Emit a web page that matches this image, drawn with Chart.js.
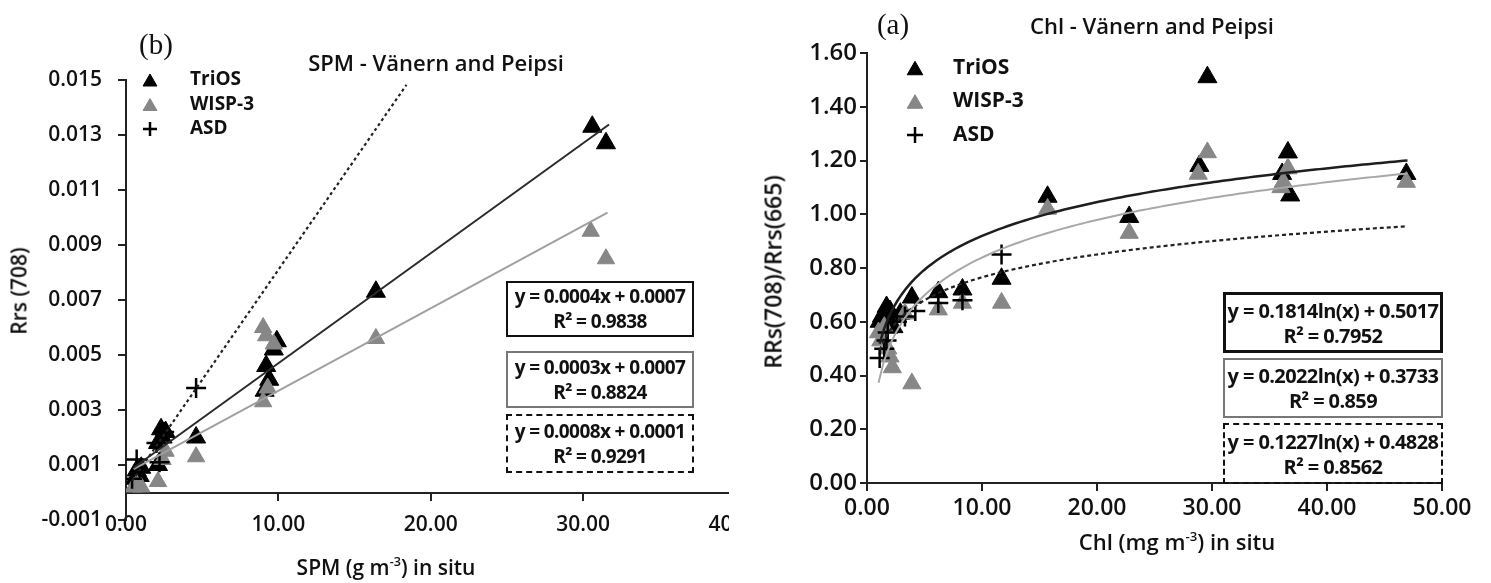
<!DOCTYPE html>
<html>
<head>
<meta charset="utf-8">
<script src="https://cdn.jsdelivr.net/npm/chart.js@4.4.1/dist/chart.umd.min.js"></script>
<style>
  html, body { margin: 0; padding: 0; background: #fff; }
  body { width: 1491px; height: 583px; position: relative; overflow: hidden; font-family: "Open Sans", sans-serif; color: #111; }
  .panel { position: absolute; top: 0; height: 583px; overflow: hidden; }
  #leftPanel { left: 0; width: 729px; }
  #rightPanel { left: 740px; width: 751px; }
  .txt { position: absolute; white-space: nowrap; line-height: 1; transform: translate(-50%, -50%); font-weight: 600; }
  .tag { font-family: "Liberation Serif", serif; font-size: 29px; font-weight: 400; }
  .ytitle { transform: translate(-50%, -50%) rotate(-90deg); }
  .box { position: absolute; box-sizing: border-box; display: flex; flex-direction: column; justify-content: center; align-items: center; font-weight: 700; letter-spacing: -0.6px; line-height: 25px; white-space: nowrap; }
  sup { font-size: 0.6em; vertical-align: 0.7em; line-height: 0; }
</style>
</head>
<body>
<div class="panel" id="leftPanel"><canvas id="spmChart" width="790" height="583"></canvas></div>
<div class="panel" id="rightPanel"><canvas id="chlChart" width="751" height="583"></canvas></div>

<!-- panel (b) texts -->
<div class="txt tag" style="left:156px;top:44px;">(b)</div>
<div class="txt" style="left:436px;top:62px;font-size:22px;">SPM - Vänern and Peipsi</div>
<div class="txt ytitle" style="left:19px;top:291px;font-size:21px;">Rrs (708)</div>
<div class="txt" style="left:386px;top:567px;font-size:21px;">SPM (g m<sup>-3</sup>) in situ</div>
<div class="box" style="left:506px;top:281px;width:188px;height:56px;border:2.5px solid #111;font-size:19px;"><div>y = 0.0004x + 0.0007</div><div>R² = 0.9838</div></div>
<div class="box" style="left:506px;top:351px;width:188px;height:57px;border:2px solid #777;font-size:19px;"><div>y = 0.0003x + 0.0007</div><div>R² = 0.8824</div></div>
<div class="box" style="left:506px;top:414px;width:188px;height:59px;border:2.5px dashed #111;font-size:19px;"><div>y = 0.0008x + 0.0001</div><div>R² = 0.9291</div></div>

<!-- panel (a) texts -->
<div class="txt tag" style="left:893px;top:24px;">(a)</div>
<div class="txt" style="left:1152px;top:25px;font-size:22px;">Chl - Vänern and Peipsi</div>
<div class="txt ytitle" style="left:773px;top:272px;font-size:23px;">RRs(708)/Rrs(665)</div>
<div class="txt" style="left:1177px;top:541px;font-size:22px;">Chl (mg m<sup>-3</sup>) in situ</div>
<div class="box" style="left:1223px;top:292px;width:220px;height:61px;border:3px solid #111;font-size:20px;"><div>y = 0.1814ln(x) + 0.5017</div><div>R² = 0.7952</div></div>
<div class="box" style="left:1223px;top:358px;width:220px;height:60px;border:2px solid #777;font-size:20px;"><div>y = 0.2022ln(x) + 0.3733</div><div>R² = 0.859</div></div>
<div class="box" style="left:1223px;top:423px;width:220px;height:61px;border:2.5px dashed #111;font-size:20px;"><div>y = 0.1227ln(x) + 0.4828</div><div>R² = 0.8562</div></div>

<script>
// ---- SPM panel (b) ----
const spmTriosX = [0.6, 0.7, 0.9, 1.0, 2.1, 2.1, 2.4, 2.6, 2.3, 4.6, 9.2, 9.4, 9.1, 9.9, 9.7, 16.4, 30.6, 31.5];
const spmTriosY = [0.0005, 0.0008, 0.0006, 0.0009, 0.0010, 0.0018, 0.0020, 0.0022, 0.0023, 0.0020, 0.0046, 0.0041, 0.0037, 0.0055, 0.0052, 0.0073, 0.0133, 0.0127];
const spmWispX = [0.5, 0.7, 1.0, 2.1, 2.6, 2.4, 4.6, 9.0, 9.2, 9.7, 9.3, 9.0, 16.4, 30.5, 31.5];
const spmWispY = [0.0002, 0.0003, 0.0002, 0.0004, 0.0015, 0.0012, 0.0013, 0.0060, 0.0057, 0.0054, 0.0038, 0.0033, 0.0056, 0.0095, 0.0085];
const spmAsdX = [0.4, 0.7, 2.0, 2.2, 2.5, 4.6];
const spmAsdY = [0.0005, 0.0012, 0.0018, 0.0011, 0.0022, 0.0038];

// trend lines: [slope, intercept] and drawn x range
const spmFitTrios = [0.0004, 0.0007], spmFitTriosRange = [0.5, 31.7];
const spmFitWisp = [0.0003, 0.0007], spmFitWispRange = [0.5, 31.6];
const spmFitAsd = [0.0008, 0.0001], spmFitAsdRange = [0.4, 18.4];

// ---- Chl panel (a) ----
const chlTriosX = [1.1, 1.3, 1.5, 1.7, 2.0, 2.2, 2.3, 2.9, 3.9, 6.2, 8.3, 11.7, 15.7, 22.8, 28.9, 29.6, 36.1, 36.6, 36.8, 46.9];
const chlTriosY = [0.60, 0.62, 0.59, 0.655, 0.64, 0.62, 0.58, 0.63, 0.69, 0.71, 0.72, 0.76, 1.065, 0.99, 1.18, 1.51, 1.15, 1.23, 1.07, 1.15];
const chlWispX = [1.0, 1.2, 1.5, 1.8, 2.0, 2.2, 3.3, 3.9, 6.2, 8.3, 11.7, 15.7, 22.8, 28.8, 29.6, 36.0, 36.2, 36.6, 46.9];
const chlWispY = [0.56, 0.53, 0.58, 0.50, 0.47, 0.43, 0.63, 0.37, 0.645, 0.67, 0.67, 1.02, 0.93, 1.15, 1.23, 1.10, 1.12, 1.17, 1.12];
const chlAsdX = [1.1, 1.5, 1.7, 1.8, 2.6, 3.3, 4.2, 6.2, 8.3, 11.7];
const chlAsdY = [0.465, 0.50, 0.53, 0.56, 0.60, 0.62, 0.64, 0.67, 0.68, 0.85];

// log trend lines: y = a ln(x) + b
const chlFitTrios = [0.1814, 0.5017], chlFitTriosRange = [1.1, 47];
const chlFitWisp = [0.2022, 0.3733], chlFitWispRange = [1.0, 47];
const chlFitAsd = [0.1227, 0.4828], chlFitAsdRange = [1.1, 47];

const GRAY = '#878787';

function toPoints(xs, ys) {
  return xs.map((x, i) => ({ x: x, y: ys[i] }));
}
function linFit(c, r) {
  return r.map(x => ({ x: x, y: c[0] * x + c[1] }));
}
function logFit(c, r) {
  const n = 120, pts = [];
  for (let i = 0; i <= n; i++) {
    const x = r[0] + (r[1] - r[0]) * i / n;
    pts.push({ x: x, y: c[0] * Math.log(x) + c[1] });
  }
  return pts;
}

// legend drawn inside the plot area
const insetLegend = {
  id: 'insetLegend',
  afterDatasetsDraw(chart, args, opts) {
    const ctx = chart.ctx;
    let row = 0;
    chart.data.datasets.forEach(ds => {
      if (!ds.inLegend) return;
      const cy = opts.y + row * opts.gap;
      const r = ds.pointStyle === 'cross' ? opts.crossRadius : opts.radius;
      ctx.save();
      ctx.fillStyle = ds.backgroundColor;
      ctx.strokeStyle = ds.borderColor;
      ctx.lineWidth = ds.borderWidth;
      const dy = ds.pointStyle === 'triangle' ? r / 4 : 0;
      Chart.helpers.drawPoint(ctx, { pointStyle: ds.pointStyle, radius: r, borderWidth: ds.borderWidth, rotation: 0 }, opts.x, cy + dy);
      ctx.fillStyle = '#111';
      ctx.font = 'bold ' + opts.fontSize + 'px "Open Sans"';
      ctx.textBaseline = 'middle';
      ctx.textAlign = 'left';
      ctx.fillText(ds.label, opts.textX, cy);
      ctx.restore();
      row++;
    });
  }
};

function markerSets(tx, ty, wx, wy, ax, ay, rT, rW, rA) {
  return [
    { label: 'TriOS', data: toPoints(tx, ty), pointStyle: 'triangle', pointRadius: rT, backgroundColor: '#000', borderColor: '#000', borderWidth: 1, order: 3, inLegend: true },
    { label: 'WISP-3', data: toPoints(wx, wy), pointStyle: 'triangle', pointRadius: rW, backgroundColor: GRAY, borderColor: GRAY, borderWidth: 1, order: 2, inLegend: true },
    { label: 'ASD', data: toPoints(ax, ay), pointStyle: 'cross', pointRadius: rA, backgroundColor: '#000', borderColor: '#000', borderWidth: 2.5, order: 1, inLegend: true }
  ];
}
function lineSet(label, pts, color, width, dash) {
  return { label: label, data: pts, showLine: true, pointRadius: 0, borderColor: color, borderWidth: width, borderDash: dash || [], fill: false, tension: 0, order: 0 };
}

Chart.defaults.font.family = "'Open Sans', sans-serif";
Chart.defaults.color = '#111';

const tickFontL = { family: 'Open Sans', size: 21, weight: '600' };
const tickFontRx = { family: 'Open Sans', size: 23, weight: '600' };
const tickFontRy = { family: 'Open Sans', size: 24, weight: '600' };

new Chart(document.getElementById('spmChart'), {
  type: 'scatter',
  data: {
    datasets: markerSets(spmTriosX, spmTriosY, spmWispX, spmWispY, spmAsdX, spmAsdY, 11, 10, 10).concat([
      lineSet('TriOS fit', linFit(spmFitTrios, spmFitTriosRange), '#2a2a2a', 2),
      lineSet('WISP-3 fit', linFit(spmFitWisp, spmFitWispRange), '#a0a0a0', 2),
      lineSet('ASD fit', linFit(spmFitAsd, spmFitAsdRange), '#222', 2.2, [3, 3])
    ])
  },
  options: {
    responsive: false,
    animation: false,
    devicePixelRatio: 1,
    layout: { padding: { left: 0, top: 80, right: 54.5, bottom: 63 } },
    plugins: {
      legend: { display: false },
      tooltip: { enabled: false },
      insetLegend: { x: 150, y: 80, gap: 24.5, textX: 190, radius: 8, crossRadius: 7, fontSize: 19 }
    },
    scales: {
      x: {
        type: 'linear', min: 0, max: 40, position: { y: 0 },
        ticks: { stepSize: 10, padding: 13, color: '#111', font: tickFontL, maxRotation: 0, autoSkip: false, callback: v => v.toFixed(2) },
        grid: { display: true, drawOnChartArea: false, drawTicks: true, tickLength: 7, color: '#222', lineWidth: 2 },
        border: { display: true, color: '#222', width: 2 }
      },
      y: {
        type: 'linear', min: -0.001, max: 0.015, position: 'left',
        afterFit: s => { s.width = 126; },
        ticks: { stepSize: 0.002, padding: 16, color: '#111', font: tickFontL, autoSkip: false, callback: v => v.toFixed(3) },
        grid: { display: true, drawOnChartArea: false, drawTicks: true, tickLength: 8, color: '#222', lineWidth: 2 },
        border: { display: true, color: '#222', width: 2 }
      }
    }
  },
  plugins: [insetLegend]
});

new Chart(document.getElementById('chlChart'), {
  type: 'scatter',
  data: {
    datasets: markerSets(chlTriosX, chlTriosY, chlWispX, chlWispY, chlAsdX, chlAsdY, 11, 10.5, 10).concat([
      lineSet('TriOS fit', logFit(chlFitTrios, chlFitTriosRange), '#1e1e1e', 2.5),
      lineSet('WISP-3 fit', logFit(chlFitWisp, chlFitWispRange), '#a8a8a8', 2),
      lineSet('ASD fit', logFit(chlFitAsd, chlFitAsdRange), '#222', 2.2, [4, 3])
    ])
  },
  options: {
    responsive: false,
    animation: false,
    devicePixelRatio: 1,
    layout: { padding: { left: 0, top: 53, right: 49, bottom: 0 } },
    plugins: {
      legend: { display: false },
      tooltip: { enabled: false },
      insetLegend: { x: 175, y: 68, gap: 33.5, textX: 213, radius: 9, crossRadius: 8, fontSize: 21 }
    },
    scales: {
      x: {
        type: 'linear', min: 0, max: 50, position: 'bottom',
        afterFit: s => { s.height = 100; },
        ticks: { stepSize: 10, padding: 4, color: '#111', font: tickFontRx, maxRotation: 0, autoSkip: false, callback: v => v.toFixed(2) },
        grid: { display: true, drawOnChartArea: false, drawTicks: true, tickLength: 8, color: '#222', lineWidth: 2 },
        border: { display: true, color: '#222', width: 2 }
      },
      y: {
        type: 'linear', min: 0, max: 1.6, position: 'left',
        afterFit: s => { s.width = 127; },
        ticks: { stepSize: 0.2, padding: 3, color: '#111', font: tickFontRy, autoSkip: false, callback: v => v.toFixed(2) },
        grid: { display: true, drawOnChartArea: false, drawTicks: true, tickLength: 7, color: '#222', lineWidth: 2 },
        border: { display: true, color: '#222', width: 2 }
      }
    }
  },
  plugins: [insetLegend]
});
</script>
</body>
</html>
